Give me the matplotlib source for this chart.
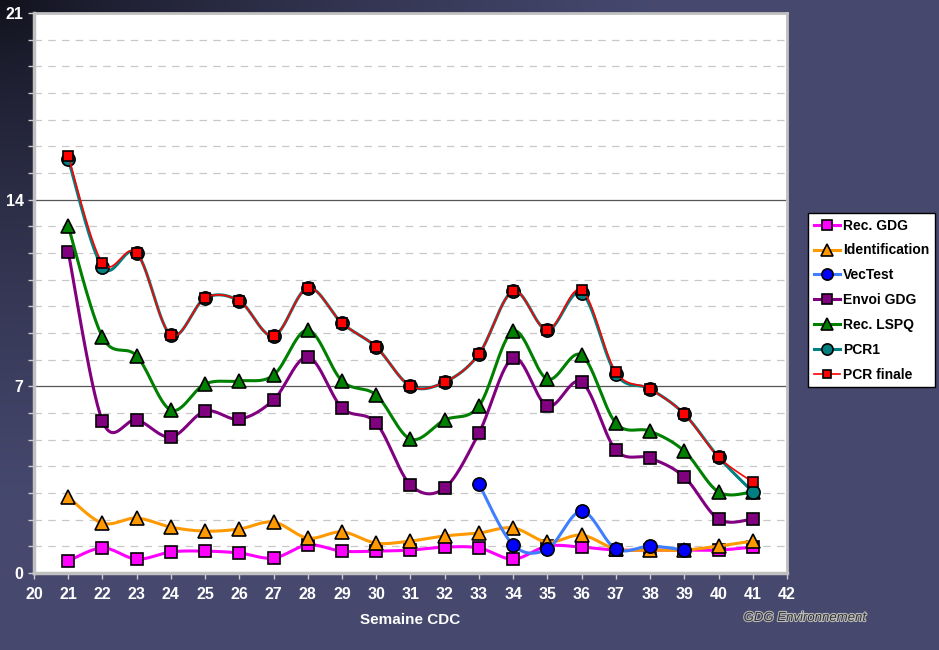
import matplotlib.pyplot as plt
import matplotlib.patheffects as pe
import numpy as np

plt.rcParams['font.family'] = ['Liberation Sans', 'DejaVu Sans']

weeks = list(range(21, 42))
rec_gdg = [0.45, 0.94, 0.52, 0.79, 0.82, 0.75, 0.56, 1.05, 0.82, 0.82, 0.86,
           0.97, 0.94, 0.52, 1.01, 0.97, 0.86, 0.86, 0.86, 0.86, 0.97]
identification = [2.85, 1.87, 2.06, 1.72, 1.57, 1.65, 1.91, 1.31, 1.54, 1.12, 1.2,
                  1.39, 1.5, 1.69, 1.16, 1.42, 0.9, 0.86, 0.86, 1.01, 1.2]
vectest_weeks = [33, 34, 35, 36, 37, 38, 39]
vectest = [3.34, 1.05, 0.9, 2.32, 0.9, 1.01, 0.86]
envoi_gdg = [12.04, 5.7, 5.74, 5.1, 6.07, 5.77, 6.49, 8.1, 6.19, 5.62, 3.3,
             3.19, 5.25, 8.06, 6.26, 7.16, 4.61, 4.31, 3.6, 2.02, 2.02]
rec_lspq = [13.01, 8.85, 8.14, 6.11, 7.09, 7.2, 7.42, 9.11, 7.2, 6.67, 5.02,
            5.74, 6.26, 9.07, 7.27, 8.17, 5.62, 5.32, 4.57, 3.04, 3.04]
pcr1 = [15.52, 11.47, 12.0, 8.92, 10.31, 10.2, 8.89, 10.69, 9.37, 8.47, 7.01,
        7.16, 8.21, 10.57, 9.11, 10.5, 7.46, 6.9, 5.96, 4.35, 3.04]
pcr_finale = [15.64, 11.62, 12.0, 8.92, 10.31, 10.2, 8.89, 10.69, 9.37, 8.47, 7.01,
              7.16, 8.21, 10.57, 9.11, 10.61, 7.54, 6.9, 5.96, 4.35, 3.41]


def smooth(x, y, n=30):
    # Catmull-Rom like Excel's smoothed lines
    x = np.asarray(x, float)
    y = np.asarray(y, float)
    xs, ys = [], []
    for i in range(len(x) - 1):
        p0 = (x[i - 1], y[i - 1]) if i > 0 else (x[i], y[i])
        p1 = (x[i], y[i])
        p2 = (x[i + 1], y[i + 1])
        p3 = (x[i + 2], y[i + 2]) if i + 2 < len(x) else (x[i + 1], y[i + 1])
        c1 = (p1[0] + (p2[0] - p0[0]) / 6, p1[1] + (p2[1] - p0[1]) / 6)
        c2 = (p2[0] - (p3[0] - p1[0]) / 6, p2[1] - (p3[1] - p1[1]) / 6)
        t = np.linspace(0, 1, n)
        for k in range(2):
            b = ((1 - t) ** 3 * p1[k] + 3 * (1 - t) ** 2 * t * c1[k]
                 + 3 * (1 - t) * t ** 2 * c2[k] + t ** 3 * p2[k])
            (xs if k == 0 else ys).append(b)
    return np.concatenate(xs), np.concatenate(ys)


fig = plt.figure(figsize=(9.39, 6.5), dpi=100)

# background gradient, dark at top-left corner
bg = fig.add_axes([0, 0, 1, 1])
h, w = 650, 939
yy, xx = np.mgrid[0:h, 0:w]
d = np.clip(np.sqrt((xx / 1.0) ** 2 + (yy * 1.3) ** 2) / 650, 0, 1) ** 0.7
c0 = np.array([0.06, 0.06, 0.10])
c1 = np.array([0.275, 0.286, 0.435])
img = c0[None, None, :] * (1 - d[..., None]) + c1[None, None, :] * d[..., None]
bg.imshow(img, aspect='auto', extent=[0, 1, 0, 1])
bg.axis('off')

ax = fig.add_axes([34 / 939, 77 / 650, 753 / 939, 560 / 650])
ax.set_facecolor('white')
ax.set_xlim(20, 42)
ax.set_ylim(0, 21)

for v in range(1, 21):
    if v % 7 == 0:
        ax.axhline(v, color='#555555', lw=0.9, zorder=1)
    else:
        ax.axhline(v, color='#c8c8c8', lw=0.9, ls=(0, (6, 5)), zorder=1)

series = [
    ('Rec. GDG', weeks, rec_gdg, '#ff00ff', 's', '#ff00ff', 2.2, 9),
    ('Identification', weeks, identification, '#ff9900', '^', '#ff9900', 2.2, 9.5),
    ('VecTest', vectest_weeks, vectest, '#3f7fff', 'o', '#0000ff', 2.2, 9.5),
    ('Envoi GDG', weeks, envoi_gdg, '#800080', 's', '#800080', 2.2, 9),
    ('Rec. LSPQ', weeks, rec_lspq, '#008000', '^', '#008000', 2.2, 9.5),
    ('PCR1', weeks, pcr1, '#008080', 'o', '#008080', 2.2, 9.5),
    ('PCR finale', weeks, pcr_finale, '#ff0000', 's', '#ff0000', 1.2, 7),
]

handles = []
for i, (name, xv, yv, lc, mk, fc, lw, ms) in enumerate(series):
    sx, sy = smooth(xv, yv)
    ax.plot(sx, sy, color=lc, lw=lw, zorder=3 + i, solid_capstyle='round')
    ax.plot(xv, yv, ls='none', marker=mk, ms=ms, mfc=fc, mec='black', mew=1.2,
            zorder=3 + i)
    hl, = ax.plot([], [], color=lc, lw=lw, marker=mk, ms=ms * 0.85, mfc=fc,
                  mec='black', mew=1.2)
    hl.set_label(name)
    handles.append(hl)

ax.set_xticks(range(20, 43))
ax.set_yticks([0, 7, 14, 21])
ax.set_yticks(range(0, 22), minor=True)
ax.tick_params(axis='x', colors='#cccccc', labelcolor='white', length=4, width=1,
               labelsize=11.5, pad=6)
ax.tick_params(axis='y', which='both', colors='#cccccc', labelcolor='white',
               length=4, width=1, labelsize=11.5)
for lab in ax.get_xticklabels() + ax.get_yticklabels():
    lab.set_fontweight('bold')
for s in ['top', 'right']:
    ax.spines[s].set_color('#c0c0c0')
    ax.spines[s].set_linewidth(2)
for s in ['left', 'bottom']:
    ax.spines[s].set_color('#c0c0c0')
    ax.spines[s].set_linewidth(2.5)

ax.set_xlabel('Semaine CDC', color='white', fontsize=11, fontweight='bold',
              labelpad=8)

leg = fig.legend(handles=handles, loc='upper left',
                 bbox_to_anchor=(808 / 939, 437 / 650), frameon=True,
                 fancybox=False, framealpha=1, edgecolor='black',
                 prop={'weight': 'bold', 'size': 10}, handlelength=1.9,
                 handletextpad=0.2, borderpad=0.4, labelspacing=0.78,
                 borderaxespad=0)
leg.get_frame().set_linewidth(1)

fig.text(805 / 939, 1 - 618 / 650, 'GDG Environnement', ha='center', va='center',
         style='italic', fontsize=9.5, color='#333333',
         path_effects=[pe.withStroke(linewidth=1.5, foreground='#bbbbbb')])

fig.savefig('out.png', dpi=100)
